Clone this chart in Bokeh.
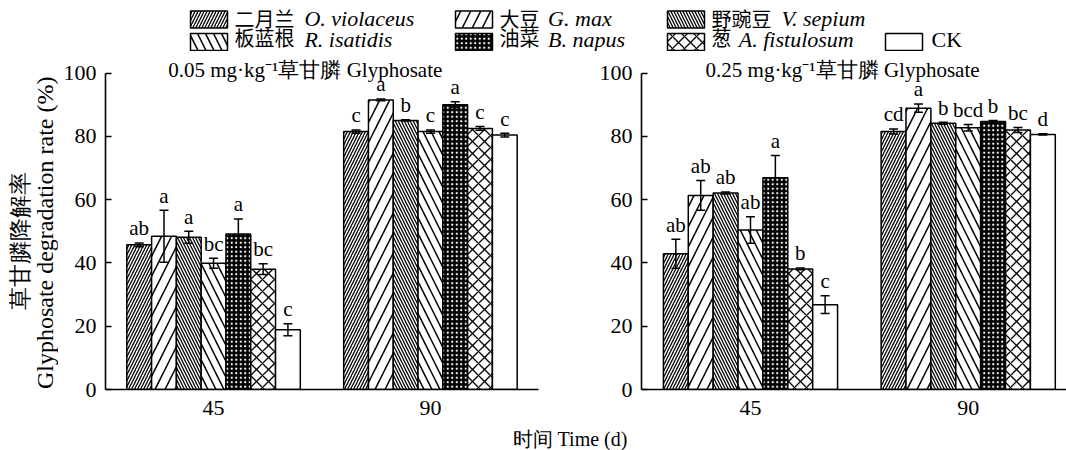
import math
from bokeh.plotting import figure
from bokeh.models import ColumnDataSource, Range1d, FixedTicker, Whisker, TeeHead, Label
from bokeh.layouts import column, row
from bokeh.embed import file_html
from bokeh.resources import INLINE
from bokeh.core.properties import value

# ---------------- data ----------------
species_cn = ["二月兰", "大豆", "野豌豆", "板蓝根", "油菜", "葱", "CK"]
species_latin = ["O. violaceus", "G. max", "V. sepium", "R. isatidis", "B. napus", "A. fistulosum", ""]
days = ["45", "90"]

low_45 = [45.7, 48.4, 48.1, 39.9, 49.1, 38.0, 18.9]
low_45_err = [0.6, 8.2, 1.9, 1.6, 4.8, 1.7, 1.9]
low_45_sig = ["ab", "a", "a", "bc", "a", "bc", "c"]
low_90 = [81.5, 91.5, 85.0, 81.5, 90.0, 82.5, 80.4]
low_90_err = [0.5, 0.3, 0.2, 0.5, 0.9, 0.6, 0.6]
low_90_sig = ["c", "a", "b", "c", "a", "c", "c"]

high_45 = [42.9, 61.3, 62.1, 50.4, 66.9, 38.1, 26.8]
high_45_err = [4.6, 4.7, 0.3, 4.2, 7.0, 0.3, 2.8]
high_45_sig = ["ab", "ab", "ab", "ab", "a", "b", "c"]
high_90 = [81.5, 88.9, 84.1, 82.7, 84.7, 82.0, 80.6]
high_90_err = [0.8, 1.3, 0.3, 1.0, 0.3, 0.8, 0.2]
high_90_sig = ["cd", "a", "b", "bcd", "b", "bc", "d"]

titles = ["0.05 mg·kg⁻¹草甘膦 Glyphosate", "0.25 mg·kg⁻¹草甘膦 Glyphosate"]
y_title_cn = "草甘膦降解率"
y_title_en = "Glyphosate degradation rate (%)"
x_title = "时间 Time (d)"

# ---------------- style / layout ----------------
SERIF = "Liberation Serif"
CJK = "Noto Sans CJK SC"
FS = "22px"
N = 7
GAP = 1.75
group_start = [0.0, N + GAP]
group_center = [s + N / 2 for s in group_start]

LEG_H = 51
PANEL_H = 370
STRIP_H = 450 - LEG_H - PANEL_H
BORDER_BOTTOM = 32
Y_TOP = (PANEL_H - BORDER_BOTTOM) / 3.165
YT_W = 58
SIG_OFFSET = 4.6

styles = [
    dict(fill_color="white", hatch_pattern="/", hatch_scale=6, hatch_weight=1.3, hatch_color="black"),
    dict(fill_color="white", hatch_pattern="/", hatch_scale=20, hatch_weight=1.5, hatch_color="black"),
    dict(fill_color="white", hatch_pattern="\\", hatch_scale=6, hatch_weight=1.3, hatch_color="black"),
    dict(fill_color="white", hatch_pattern="\\", hatch_scale=16, hatch_weight=1.5, hatch_color="black"),
    dict(fill_color="black", hatch_pattern=".", hatch_scale=4.5, hatch_weight=2.3, hatch_color="white"),
    dict(fill_color="white", hatch_pattern="x", hatch_scale=12, hatch_weight=1.3, hatch_color="black"),
    dict(fill_color="white", hatch_pattern=" ", hatch_color="black"),
]


def bare(width, height, xr, yr):
    f = figure(width=width, height=height, x_range=xr, y_range=yr, output_backend="svg",
               toolbar_location=None, x_axis_location=None, y_axis_location=None, min_border=0)
    f.xgrid.visible = False
    f.ygrid.visible = False
    f.outline_line_color = None
    return f


def panel(vals, errs, sigs, x0, x1, width, bl, br, title):
    p = figure(width=width, height=PANEL_H, x_range=Range1d(x0, x1), y_range=Range1d(0, Y_TOP),
               output_backend="svg", toolbar_location=None,
               min_border_left=bl, min_border_right=br, min_border_top=0, min_border_bottom=BORDER_BOTTOM)
    p.xgrid.visible = False
    p.ygrid.visible = False
    p.outline_line_color = None

    for i in range(N):
        xs = [group_start[d] + i + 0.5 for d in range(2)]
        tops = [vals[d][i] for d in range(2)]
        p.vbar(x=xs, top=tops, bottom=0, width=1, line_color="black", line_width=1.5, **styles[i])

    xs, up, lo, ty, tt = [], [], [], [], []
    for d in range(2):
        for i in range(N):
            xs.append(group_start[d] + i + 0.5)
            up.append(vals[d][i] + errs[d][i])
            lo.append(vals[d][i] - errs[d][i])
            ty.append(vals[d][i] + errs[d][i] + SIG_OFFSET)
            tt.append(sigs[d][i])
    src = ColumnDataSource(dict(x=xs, upper=up, lower=lo, ty=ty, tt=tt))
    w = Whisker(source=src, base="x", upper="upper", lower="lower", level="overlay",
                line_color="black", line_width=1.5,
                upper_head=TeeHead(size=9, line_width=1.5, line_color="black"),
                lower_head=TeeHead(size=9, line_width=1.5, line_color="black"))
    p.add_layout(w)
    p.text(x="x", y="ty", text="tt", source=src, text_font=value(SERIF), text_font_size="21px",
           text_align="center", text_baseline="middle", text_color="black")

    p.add_layout(Label(x=7.2, y=101.1, text=title, text_font=SERIF, text_font_size="21px",
                       text_align="center", text_baseline="middle", text_color="black"))

    p.yaxis.ticker = FixedTicker(ticks=[0, 20, 40, 60, 80, 100])
    p.yaxis.bounds = (0, 100)
    p.yaxis.major_tick_in = 6
    p.yaxis.major_tick_out = 0
    p.yaxis.minor_tick_line_color = None
    p.yaxis.major_label_standoff = 9
    p.xaxis.ticker = FixedTicker(ticks=group_center)
    p.xaxis.major_label_overrides = {group_center[d]: days[d] for d in range(2)}
    p.xaxis.major_tick_in = 0
    p.xaxis.major_tick_out = 0
    p.xaxis.minor_tick_line_color = None
    p.xaxis.major_label_standoff = 11
    for ax in (p.xaxis, p.yaxis):
        ax.axis_line_width = 1.6
        ax.axis_line_color = "black"
        ax.major_tick_line_width = 1.6
        ax.major_tick_line_color = "black"
        ax.major_label_text_font = SERIF
        ax.major_label_text_font_size = FS
        ax.major_label_text_color = "black"
    return p


p1 = panel([low_45, low_90], [low_45_err, low_90_err], [low_45_sig, low_90_sig],
           -0.86, 16.61, 590 - YT_W, 105 - YT_W, 52, titles[0])
p2 = panel([high_45, high_90], [high_45_err, high_90_err], [high_45_sig, high_90_sig],
           -0.88, 16.2, 476, 51, 0, titles[1])

# ---------------- y-title column ----------------
yt = bare(YT_W, PANEL_H, Range1d(0, YT_W), Range1d(0, PANEL_H))
page_bottom = LEG_H + PANEL_H
yt.text(x=[20], y=[page_bottom - 258], text=[y_title_cn], angle=math.pi / 2, text_font=value(SERIF),
        text_font_size="23px", text_align="center", text_baseline="middle", text_color="black")
yt.text(x=[44], y=[page_bottom - 249.5], text=[y_title_en], angle=math.pi / 2, text_font=value(SERIF),
        text_font_size="24px", text_align="center", text_baseline="middle", text_color="black")

# ---------------- legend strip ----------------
leg = bare(1066, LEG_H, Range1d(0, 1066), Range1d(LEG_H, 0))
slot_left = [190, 455, 667, 190, 455, 667, 885]
slot_row = [0, 0, 0, 1, 1, 1, 1]
row_y = [19, 41.5]
cn_y = [18, 37.3]
latin_y = [18, 39]
SW, SH = 37, 17
for i in range(N):
    xl = slot_left[i]
    r = slot_row[i]
    leg.rect(x=[xl + SW / 2], y=[row_y[r]], width=SW, height=SH, line_color="black", line_width=1.5,
             **styles[i])
    if species_latin[i]:
        leg.text(x=[xl + 44], y=[cn_y[r]], text=[species_cn[i]], text_font=value(CJK),
                 text_font_size="20px", text_baseline="middle", text_align="left", text_color="black")
        leg.text(x=[xl + 50 + 21.3 * len(species_cn[i])], y=[latin_y[r]], text=[species_latin[i]],
                 text_font=value(SERIF), text_font_style="italic", text_font_size=FS,
                 text_baseline="middle", text_align="left", text_color="black")
    else:
        leg.text(x=[xl + 46], y=[latin_y[r]], text=[species_cn[i]], text_font=value(SERIF),
                 text_font_size=FS, text_baseline="middle", text_align="left", text_color="black")

# ---------------- x-title strip ----------------
strip = bare(1066, STRIP_H, Range1d(0, 1066), Range1d(450, 450 - STRIP_H))
strip.text(x=[569.5], y=[438.2], text=[x_title], text_font=value(SERIF), text_font_size="20px",
           text_align="center", text_baseline="middle", text_color="black")

layout = column(leg, row(yt, p1, p2), strip)
open("out.html", "w").write(file_html(layout, INLINE))
